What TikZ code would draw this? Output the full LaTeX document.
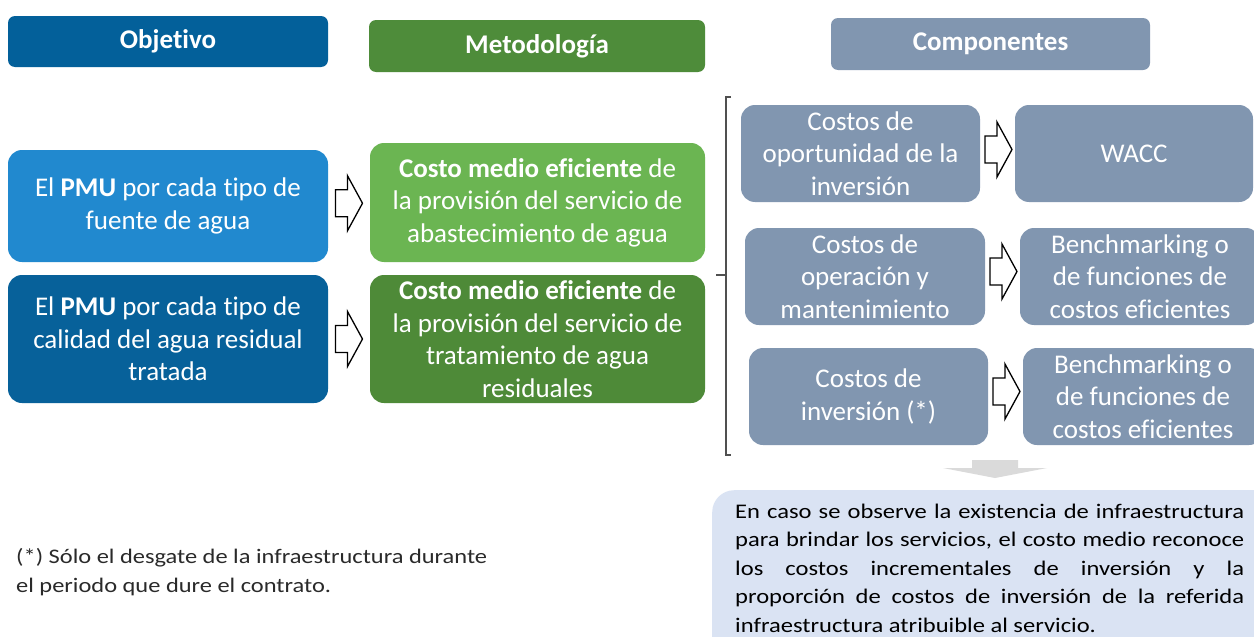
\documentclass[tikz,border=0pt]{standalone}
\usepackage{fontspec}
\setmainfont[Ligatures={NoCommon}]{Carlito}
\newfontfamily\widefont[FakeStretch=1.18,Ligatures={NoCommon}]{Carlito}
\usetikzlibrary{calc}
\definecolor{objblue}{HTML}{03609A}
\definecolor{pmulight}{HTML}{2189CF}
\definecolor{pmudark}{HTML}{07619A}
\definecolor{methdr}{HTML}{4E8C3A}
\definecolor{metlight}{HTML}{6BB552}
\definecolor{metdark}{HTML}{4E8A38}
\definecolor{compgray}{HTML}{8196B0}
\definecolor{notefill}{HTML}{DAE3F3}
\definecolor{downgray}{HTML}{DADADA}
\definecolor{bracketgray}{HTML}{505050}
\definecolor{foottext}{HTML}{2A2A2A}
\newcommand\hollowarrow[1]{%
  \draw[harrow] ($(#1)+(-13.5,-13.5)$) -- ++(12,0) -- ++(0,-14) -- ++(15,27.5)
    -- ++(-15,27.5) -- ++(0,-14) -- ++(-12,0) -- cycle;}
\begin{document}
\begin{tikzpicture}[x=1pt,y=-1pt,
  hdr/.style={rounded corners=7pt, text=white, inner sep=0pt, align=center,
    font=\bfseries\fontsize{27}{31}\selectfont},
  mainbox/.style={rounded corners=14pt, text=white, inner sep=0pt, align=center,
    font=\fontsize{27}{32.5}\selectfont},
  graybox/.style={mainbox, fill=compgray, minimum width=239pt, minimum height=97pt},
  harrow/.style={draw=black, line width=1.3pt, fill=white, line join=miter},
  bracket/.style={draw=bracketgray, line width=1.6pt},
  notebox/.style={fill=notefill, rounded corners=22pt, inner sep=0pt},
  plain/.style={inner sep=0pt, anchor=base west},
]
\clip (0,0) rectangle (1254,637);
\fill[white] (0,0) rectangle (1254,637);

% headers
\node[hdr, fill=objblue, minimum width=320pt, minimum height=51pt] (hobj) at (168,41.5) {Objetivo};
\node[hdr, fill=methdr, minimum width=336pt, minimum height=52pt] (hmet) at (537,46) {Metodología};
\node[hdr, fill=compgray, minimum width=319pt, minimum height=52pt] (hcomp) at (990.5,44) {Componentes};

% objective boxes
\node[mainbox, fill=pmulight, minimum width=320pt, minimum height=112pt] (pmu1) at (168,206)
  {El \textbf{PMU} por cada tipo de\\fuente de agua};
\node[mainbox, fill=pmudark, minimum width=320pt, minimum height=128pt] (pmu2) at (168,339)
  {El \textbf{PMU} por cada tipo de\\calidad del agua residual\\tratada};

% methodology boxes
\node[mainbox, fill=metlight, minimum width=335pt, minimum height=119pt] (met1) at (537.5,202.5)
  {\textbf{Costo medio eficiente} de\\la provisión del servicio de\\abastecimiento de agua};
\node[mainbox, fill=metdark, minimum width=335pt, minimum height=128pt] (met2) at (537.5,339)
  {\textbf{Costo medio eficiente} de\\la provisión del servicio de\\tratamiento de agua\\residuales};

% component boxes
\node[graybox] (c1l) at (860.5,153.5) {Costos de\\oportunidad de la\\inversión};
\node[graybox, minimum width=238pt] (c1r) at (1134,153.5) {WACC};
\node[graybox, minimum width=240pt] (c2l) at (865,276.5) {Costos de\\operación y\\mantenimiento};
\node[graybox, minimum width=240pt] (c2r) at (1140,276.5) {Benchmarking o\\de funciones de\\costos eficientes};
\node[graybox] (c3l) at (868.5,396.5) {Costos de\\inversión (*)};
\node[graybox, minimum width=240pt] (c3r) at (1143,396.5) {Benchmarking o\\de funciones de\\costos eficientes};

% hollow arrows
\coordinate (a1) at ($(pmu1.east)!0.5!(met1.west)+(0,-1)$);
\coordinate (a2) at ($(pmu2.east)!0.5!(met2.west)$);
\coordinate (a3) at ($(c1l.east)!0.5!(c1r.west)+(1,-4)$);
\coordinate (a4) at ($(c2l.east)!0.5!(c2r.west)+(1,-5)$);
\coordinate (a5) at ($(c3l.east)!0.5!(c3r.west)+(1,-5)$);
\hollowarrow{a1}
\hollowarrow{a2}
\hollowarrow{a3}
\hollowarrow{a4}
\hollowarrow{a5}

% bracket
\coordinate (bt) at (726,97);
\coordinate (bb) at (726,455);
\coordinate (bm) at (726,275);
\draw[bracket] ($(bt)+(5,0)$) -- (bt) -- (bb) -- ++(5,0);
\draw[bracket] (bm) -- ++(-10,0);

% down arrow
\coordinate (dtip) at (995,478);
\fill[downgray] ($(dtip)+(-23,-18)$) -- ++(46,0) -- ++(0,8) -- ++(29,0) -- (dtip)
  -- ($(dtip)+(-52,-10)$) -- ++(29,0) -- cycle;

% note box
\node[notebox, minimum width=580pt, minimum height=190pt, anchor=north west] (nota) at (712,490) {};
\node[plain, text=black] (notatext) at (735,518) {\widefont\fontsize{20.8}{28.5}\selectfont
  \parbox[t]{520pt}{%
  \makebox[509pt][s]{En caso se observe la existencia de infraestructura}\\
  \makebox[509pt][s]{para brindar los servicios, el costo medio reconoce}\\
  \makebox[509pt][s]{los costos incrementales de inversión y la}\\
  \makebox[509pt][s]{proporción de costos de inversión de la referida}\\
  infraestructura atribuible al servicio.}};

% footnote
\node[plain, text=foottext] (foot) at (16,563) {\widefont\fontsize{20.7}{29}\selectfont
  \parbox[t]{520pt}{(*) Sólo el desgate de la infraestructura durante\\
  el periodo que dure el contrato.}};
\end{tikzpicture}
\end{document}
